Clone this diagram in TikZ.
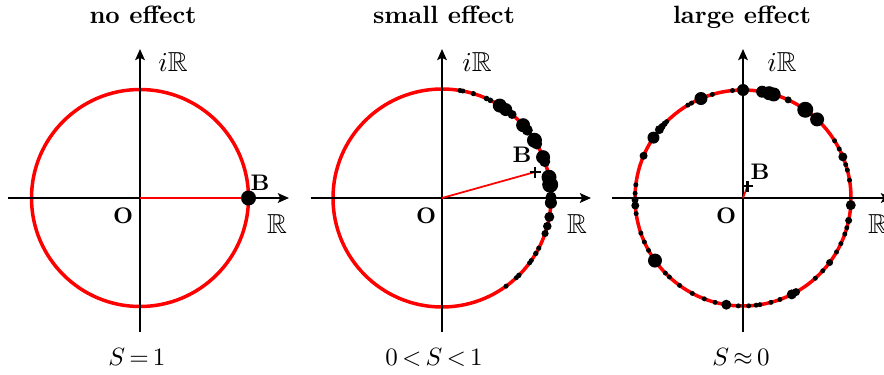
\documentclass[tikz,border=0pt]{standalone}
\usepackage{amssymb}
\usetikzlibrary{arrows.meta}
\begin{document}
\begin{tikzpicture}[x=0.4pt,y=0.4pt,
  axis/.style={line width=0.95pt,-{Stealth[length=4.4pt,width=3.8pt,inset=0.9pt]}},
  ring/.style={red,line width=1.4pt},
  radial/.style={red,line width=0.7pt},
  blob/.style={fill=black},
  plus/.style={line width=0.9pt},
  ttl/.style={font=\bfseries,anchor=base,inner sep=0pt},
  lab/.style={font=\bfseries\small,inner sep=0pt},
  ax/.style={font=\fontsize{11}{13}\selectfont,inner sep=0pt},
  sval/.style={anchor=base,inner sep=0pt}
]
\useasboundingbox (0,0) rectangle (884,374);

% ---------- panel 1 ----------
\begin{scope}[shift={(140,176)}]
  \coordinate (O1) at (0,0);
  \coordinate (H1a) at (-132,0);
  \coordinate (H1b) at (149,0);
  \coordinate (V1a) at (0,-134);
  \coordinate (V1b) at (0,149);
  \coordinate (B1) at (108.5,0);
  \draw[ring] (O1) circle[radius=108.5];
  \draw[axis] (H1a) -- (H1b);
  \draw[axis] (V1a) -- (V1b);
  \draw[radial] (O1) -- (B1);
  \fill[blob] (B1) circle[radius=7.5];
  \node[ax] (iR1) at (33,136) {$i\mathbb{R}$};
  \node[ax] (R1) at (137,-26) {$\mathbb{R}$};
  \node[lab] (Ol1) at (-17,-18) {O};
  \node[lab] (Bl1) at (120,15) {B};
\end{scope}
\node[ttl] (T1) at (143,350) {no effect};
\node[sval] (S1) at (137,9) {$S\mskip-2mu=\mskip-2mu1$};

% ---------- panel 2 ----------
\begin{scope}[shift={(442,176)}]
  \coordinate (O2) at (0,0);
  \coordinate (H2a) at (-131,0);
  \coordinate (H2b) at (149,0);
  \coordinate (V2a) at (0,-134);
  \coordinate (V2b) at (0,149);
  \coordinate (B2) at (93,26);
  \draw[ring] (O2) circle[radius=109];
  \foreach \a/\r in {80.5/2.5,79/2.5,73.3/2.6,65.9/2.8,63.7/2.8,58/7,54.2/6.5,50/4.5,
      41.9/7,38.5/5.5,32/7.5,29.7/5.5,22/7,19.5/5.5,11/7.5,7/8,0.5/5.5,-2.5/6,
      -10/5,-15/4.3,-19/3.6,-27.4/2.6,-30.6/2.7,-35/2.5,-36.5/2.5,-45.2/2.7,-47/2.5,-54/2.5}
    \fill[blob] (\a:109) circle[radius=\r];
  \draw[axis] (H2a) -- (H2b);
  \draw[axis] (V2a) -- (V2b);
  \draw[radial] (O2) -- (B2);
  \draw[plus] (B2) ++(-5.5,0) -- ++(11,0) (B2) ++(0,-5.5) -- ++(0,11);
  \node[ax] (iR2) at (35,136) {$i\mathbb{R}$};
  \node[ax] (R2) at (135,-26) {$\mathbb{R}$};
  \node[lab] (Ol2) at (-16,-18) {O};
  \node[lab] (Bl2) at (80,43) {B};
\end{scope}
\node[ttl] (T2) at (444,350) {small effect};
\node[sval] (S2) at (434,9) {$0\mskip-2mu<\mskip-2mu S\mskip-2mu<\mskip-2mu1$};

% ---------- panel 3 ----------
\begin{scope}[shift={(743,176)}]
  \coordinate (O3) at (0,0);
  \coordinate (H3a) at (-131,0);
  \coordinate (H3b) at (149,0);
  \coordinate (V3a) at (0,-134);
  \coordinate (V3b) at (0,149);
  \coordinate (B3) at (4.5,12);
  \draw[ring] (O3) circle[radius=108];
  \foreach \a/\r in {90/6,95.6/2.5,106.5/2.5,112.9/6.5,118.5/2.5,120.7/2.5,135/2.5,136.5/3,
      138.5/3.5,140.7/4.5,146/6,157/4,173/2.5,177.5/2.5,-179/3.5,-176/4,-171.7/2.5,-161/2.5,
      -156/2.5,-151/2.5,-144.6/7,-136/2.5,-133/2.5,-126/2.5,-118/2.5,-111/2.5,-105/2.5,-98.9/5,
      -92.5/2.5,-87/2.5,-83/2.5,-81/2.5,-75/2.5,-70/2.5,-63.2/5,-60.6/4,-48/2.5,-42.4/2.5,
      -36.7/3.5,-30/2.5,-25/2.5,-19.5/2.5,-16/2.5,-12/3.5,-3.8/5,9.5/2.5,15/2.5,18/2.5,22.4/4.5,27/2.5,
      32/2.5,46.7/7,54.8/8,65.3/3.5,73.5/7,76/7,79.8/6}
    \fill[blob] (\a:108) circle[radius=\r];
  \draw[axis] (H3a) -- (H3b);
  \draw[axis] (V3a) -- (V3b);
  \draw[radial] (O3) -- (B3);
  \draw[plus] (B3) ++(-5.5,0) -- ++(11,0) (B3) ++(0,-5.5) -- ++(0,11);
  \node[ax] (iR3) at (39,136) {$i\mathbb{R}$};
  \node[ax] (R3) at (135,-26) {$\mathbb{R}$};
  \node[lab] (Ol3) at (-17,-18) {O};
  \node[lab] (Bl3) at (17,26) {B};
\end{scope}
\node[ttl] (T3) at (742,350) {large effect};
\node[sval] (S3) at (741,9) {$S\mskip-2mu\approx\mskip-2mu0$};
\end{tikzpicture}
\end{document}
